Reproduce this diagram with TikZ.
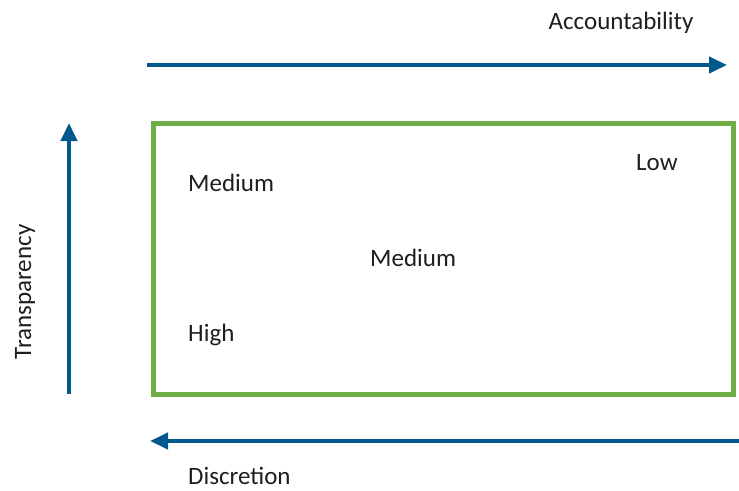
\documentclass[tikz,border=0pt]{standalone}
\usepackage{fontspec}
\setmainfont{Carlito}
\usetikzlibrary{arrows.meta}
\definecolor{axisblue}{RGB}{0,88,140}
\definecolor{boxgreen}{RGB}{112,173,71}
\definecolor{txt}{RGB}{30,30,30}
\tikzset{
  axis/.style={draw=axisblue, line width=4pt, -{Triangle[length=18pt,width=16pt]}},
  lbl/.style={inner sep=0pt, text=txt, font=\fontsize{25}{29}\selectfont},
}
\begin{document}
\begin{tikzpicture}[x=1pt,y=-1pt]
\useasboundingbox (0,0) rectangle (739,490);
\coordinate (ta) at (147,65);
\coordinate (tb) at (727,65);
\coordinate (la) at (69,394);
\coordinate (lb) at (69,123);
\coordinate (ba) at (739,441);
\coordinate (bb) at (150,441);
\draw[axis] (ta) -- (tb);
\draw[axis] (la) -- (lb);
\draw[axis] (ba) -- (bb);
\node[draw=boxgreen, line width=5pt, minimum width=580pt, minimum height=271pt, outer sep=0pt, inner sep=0pt] (box) at (443.5,259) {};
\node[lbl, anchor=base] (acc) at (621,29) {Accountability};
\node[lbl, anchor=base, rotate=90] (tr) at (31,292) {Transparency};
\node[lbl, anchor=base west] (dis) at (188,484) {Discretion};
\node[lbl, anchor=base west] (m1) at (188,191) {Medium};
\node[lbl, anchor=base west] (m2) at (370,266) {Medium};
\node[lbl, anchor=base west] (hi) at (188,341) {High};
\node[lbl, anchor=base west] (lo) at (636,170) {Low};
\end{tikzpicture}
\end{document}
